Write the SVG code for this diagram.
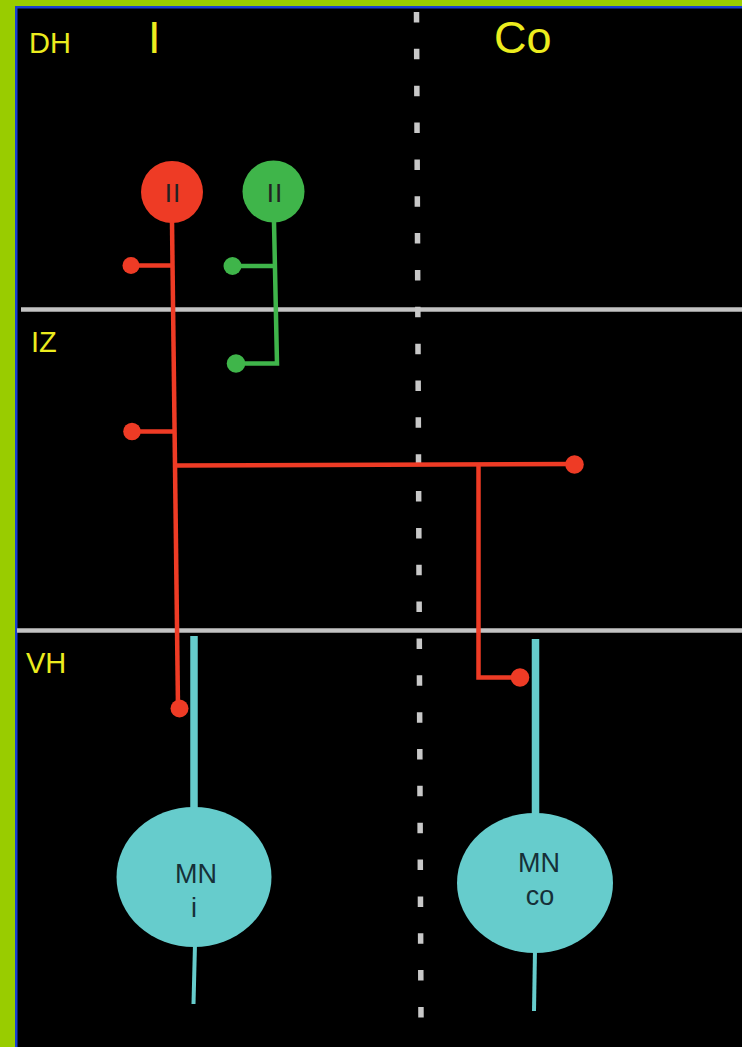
<svg xmlns="http://www.w3.org/2000/svg" width="742" height="1047" viewBox="0 0 742 1047">
<style>
.lbl{font-family:"Liberation Sans",Arial,sans-serif;fill:#ecec1e}
.red{stroke:#ee3b25;stroke-width:4.5;fill:none}
.grn{stroke:#3fb54a;stroke-width:4.5;fill:none}
.cy{stroke:#66cccc;fill:none}
.dotr{fill:#ee3b25}
.dotg{fill:#3fb54a}
.mn{fill:#66cccc}
.mnt{font-family:"Liberation Sans",Arial,sans-serif;fill:#163038;font-size:27px;text-anchor:middle}
.sep{stroke:#c3c3c3;stroke-width:4.5}
</style>
<rect x="0" y="0" width="742" height="1047" fill="#99cc00"/>
<rect x="15" y="6" width="727" height="1041" fill="#1a3fd0"/>
<rect x="17.5" y="8.5" width="724.5" height="1038.5" fill="#000"/>

<g id="background">
<line class="sep" x1="21" y1="309.5" x2="742" y2="309.5"/>
<line class="sep" x1="17" y1="630.5" x2="742" y2="630.5"/>
<line x1="416.5" y1="12" x2="421" y2="1020" stroke="#c8c8c8" stroke-width="5.5" stroke-dasharray="10.5 26.35"/>
<text class="lbl" x="29" y="53" font-size="29">DH</text>
<text class="lbl" x="31" y="352" font-size="29">IZ</text>
<text class="lbl" x="26" y="673" font-size="29">VH</text>
<text class="lbl" x="148" y="53" font-size="45">I</text>
<text class="lbl" x="494" y="53" font-size="45">Co</text>
</g>

<g id="connectors">
<path class="red" d="M172 222 L178 708"/>
<path class="red" d="M131 265.5 H172.5"/>
<path class="red" d="M132 431.5 H174"/>
<path class="red" d="M175.5 465.5 L574 464"/>
<path class="red" d="M478.5 464 V677.5 H520"/>
<circle class="dotr" cx="131" cy="265.5" r="8.5"/>
<circle class="dotr" cx="132" cy="431.5" r="8.8"/>
<circle class="dotr" cx="574.5" cy="464.5" r="9.3"/>
<circle class="dotr" cx="520" cy="677.5" r="9.3"/>
<circle class="dotr" cx="179.5" cy="708.5" r="9"/>
<path class="grn" d="M274 222 L277 363.5 H236"/>
<path class="grn" d="M232 266 H274.5"/>
<circle class="dotg" cx="232.5" cy="266" r="9"/>
<circle class="dotg" cx="236" cy="363.5" r="9.3"/>
<path class="cy" stroke-width="7.5" d="M194 636 V810"/>
<path class="cy" stroke-width="4" d="M195 944 L193.5 1004"/>
<path class="cy" stroke-width="7.5" d="M535.5 639 V815"/>
<path class="cy" stroke-width="4" d="M535 950 L534 1011"/>
</g>

<g id="node-red-II">
<circle cx="172" cy="192" r="31" fill="#ee3b25"/>
<text x="173" y="202" font-family="Liberation Sans, Arial, sans-serif" font-size="26" fill="#222" text-anchor="middle" letter-spacing="1">II</text>
</g>
<g id="node-green-II">
<circle cx="273.5" cy="191.5" r="31" fill="#3fb54a"/>
<text x="275" y="202" font-family="Liberation Sans, Arial, sans-serif" font-size="26" fill="#222" text-anchor="middle" letter-spacing="1">II</text>
</g>
<g id="node-MN-i">
<ellipse class="mn" cx="194" cy="877" rx="77.5" ry="70"/>
<text class="mnt" x="196" y="883">MN</text>
<text class="mnt" x="194" y="917">i</text>
</g>
<g id="node-MN-co">
<ellipse class="mn" cx="535" cy="883" rx="78" ry="70"/>
<text class="mnt" x="539" y="872">MN</text>
<text class="mnt" x="540" y="905">co</text>
</g>
</svg>
